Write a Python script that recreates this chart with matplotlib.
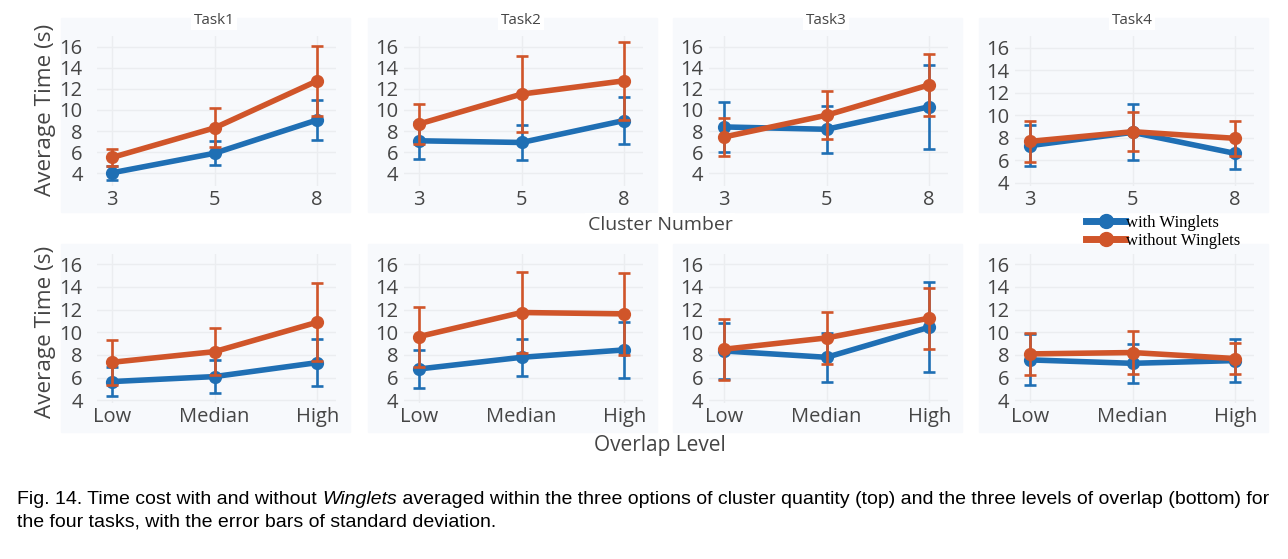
import matplotlib
matplotlib.use('Agg')
import matplotlib.pyplot as plt
from matplotlib.lines import Line2D
from matplotlib.patches import Rectangle

# Data
tasks = ['Task1', 'Task2', 'Task3', 'Task4']
cluster_labels = ['3', '5', '8']
overlap_labels = ['Low', 'Median', 'High']

# top row: cluster number, mean and standard deviation per task
cl_with_mean = [[4.05, 5.9, 9.05], [7.08, 6.92, 9.0], [8.39, 8.17, 10.3], [7.29, 8.47, 6.6]]
cl_with_sd = [[0.65, 1.15, 1.85], [1.75, 1.7, 2.2], [2.35, 2.25, 4.0], [1.83, 2.5, 1.4]]
cl_without_mean = [[5.5, 8.3, 12.75], [8.67, 11.5, 12.76], [7.44, 9.5, 12.37], [7.67, 8.53, 7.94]]
cl_without_sd = [[0.85, 1.85, 3.3], [1.9, 3.6, 3.7], [1.8, 2.25, 2.9], [1.85, 1.73, 1.55]]

# bottom row: overlap level
ov_with_mean = [[5.65, 6.09, 7.32], [6.76, 7.79, 8.44], [8.35, 7.79, 10.44], [7.56, 7.26, 7.5]]
ov_with_sd = [[1.25, 1.47, 2.05], [1.65, 1.63, 2.5], [2.45, 2.15, 3.95], [2.25, 1.7, 1.9]]
ov_without_mean = [[7.35, 8.29, 10.88], [9.62, 11.74, 11.62], [8.5, 9.5, 11.24], [8.09, 8.21, 7.68]]
ov_without_sd = [[2.0, 2.05, 3.45], [2.65, 3.53, 3.6], [2.7, 2.3, 2.68], [1.85, 1.93, 1.4]]

yticks = [4, 6, 8, 10, 12, 14, 16]

# Styles
W, H = 1288, 559
BLUE = '#1f6fb4'
RED = '#d0552a'
BG = '#f7f9fc'
GRID = '#ebedf0'
TXT = '#454545'
FONT = ['Open Sans', 'DejaVu Sans']


def box(l, t, w, h):
    return [l / W, 1 - (t + h) / H, w / W, h / H]


fig = plt.figure(figsize=(W / 100, H / 100), dpi=100)
fig.patch.set_facecolor('white')

tick3 = [112, 419, 724, 1030]
xlim = (-0.15, 2.18)
axw = 239


def draw(ax, labels, wm, ws, om, osd, ylim, ypad):
    x = list(range(len(labels)))
    ax.set_facecolor(BG)
    ax.errorbar(x, wm, yerr=ws, color=BLUE, lw=4, marker='o', ms=8.5,
                elinewidth=1.9, capsize=4, capthick=1.9, zorder=3)
    ax.errorbar(x, om, yerr=osd, color=RED, lw=4, marker='o', ms=8.5,
                elinewidth=1.9, capsize=4, capthick=1.9, zorder=4)
    ax.set_xlim(*xlim)
    ax.set_ylim(*ylim)
    ax.set_xticks(x)
    ax.set_xticklabels(labels)
    ax.set_yticks(yticks)
    ax.grid(True, color=GRID, lw=1)
    ax.set_axisbelow(True)
    for s in ax.spines.values():
        s.set_visible(False)
    ax.tick_params(axis='x', length=0, pad=3, labelsize=14.5, colors=TXT)
    ax.tick_params(axis='y', length=0, pad=ypad, labelsize=14.5, colors=TXT)
    for lab in ax.get_xticklabels() + ax.get_yticklabels():
        lab.set_family(FONT)


top_ylims = [(2.8, 17.0), (2.8, 17.0), (2.8, 17.0), (3.7, 17.04)]
for i in range(4):
    l = tick3[i] - 15.4
    # light panel backgrounds
    fig.add_artist(Rectangle(((l - 36) / W, 1 - 212 / H), (axw + 50) / W, 194 / H,
                             transform=fig.transFigure, color=BG, zorder=-5))
    fig.add_artist(Rectangle(((l - 36) / W, 1 - 432 / H), (axw + 50) / W, 188 / H,
                             transform=fig.transFigure, color=BG, zorder=-5))

    ax = fig.add_axes(box(l, 36, axw, 150))
    draw(ax, cluster_labels, cl_with_mean[i], cl_with_sd[i],
         cl_without_mean[i], cl_without_sd[i], top_ylims[i], 10 if i == 0 else 4)
    fig.text((tick3[i] + 102) / W, 1 - 20 / H, tasks[i], ha='center', va='center',
             fontsize=11, color=TXT, family=FONT,
             bbox=dict(fc='white', ec='none', pad=2))

    ax = fig.add_axes(box(l, 254, axw, 149))
    draw(ax, overlap_labels, ov_with_mean[i], ov_with_sd[i],
         ov_without_mean[i], ov_without_sd[i], (3.76, 16.9), 10 if i == 0 else 4)

# axis titles
for yc in [110, 332]:
    fig.text(46 / W, 1 - yc / H, 'Average Time (s)', rotation=90, ha='center',
             va='center', fontsize=16.2, color=TXT, family=FONT)
fig.text(660 / W, 1 - 225 / H, 'Cluster Number', ha='center', va='center',
         fontsize=14, color=TXT, family=FONT,
         bbox=dict(fc='white', ec='none', pad=2))
fig.text(660 / W, 1 - 445 / H, 'Overlap Level', ha='center', va='center',
         fontsize=15, color=TXT, family=FONT)

# legend
handles = [Line2D([], [], color=BLUE, lw=5, marker='o', ms=10),
           Line2D([], [], color=RED, lw=5, marker='o', ms=10)]
fig.legend(handles, ['with Winglets', 'without Winglets'], loc='upper left',
           bbox_to_anchor=(1078 / W, 1 - 207 / H), frameon=False, handlelength=2.3,
           handletextpad=0.1, labelspacing=0.1, borderpad=0,
           prop={'family': 'Liberation Serif', 'size': 12})

# caption
cap_size = 14.0
fig.canvas.draw()
r = fig.canvas.get_renderer()
t1 = fig.text(17 / W, 1 - 499 / H, 'Fig. 14. Time cost with and without ', ha='left',
              va='center', fontsize=cap_size, family='Liberation Sans', color='black')
e1 = t1.get_window_extent(r)
t2 = fig.text(e1.x1 / W, 1 - 499 / H, 'Winglets', ha='left', va='center',
              fontsize=cap_size, family='Liberation Sans', style='italic', color='black')
e2 = t2.get_window_extent(r)
fig.text(e2.x1 / W, 1 - 499 / H,
         ' averaged within the three options of cluster quantity (top) and the three '
         'levels of overlap (bottom) for',
         ha='left', va='center', fontsize=cap_size, family='Liberation Sans', color='black')
fig.text(17 / W, 1 - 522 / H, 'the four tasks, with the error bars of standard deviation.',
         ha='left', va='center', fontsize=cap_size, family='Liberation Sans', color='black')

fig.savefig('out.png', dpi=100, facecolor='white')
